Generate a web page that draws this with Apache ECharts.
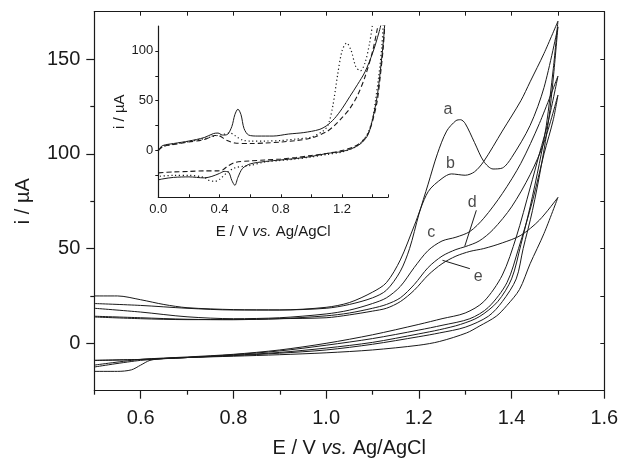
<!DOCTYPE html>
<html><head><meta charset="utf-8">
<script src="https://cdn.jsdelivr.net/npm/echarts@6/dist/echarts.min.js"></script>
<style>html,body{margin:0;padding:0;background:#fff}#c{width:622px;height:459px}</style>
</head><body><div id="c"></div>
<script>
// ---- tick / label values ----
const mainXLabels = [0.6, 0.8, 1.0, 1.2, 1.4, 1.6];
const mainXMinor = [0.5, 0.7, 0.9, 1.1, 1.3, 1.5];
const mainYLabels = [0, 50, 100, 150];
const mainYMinor = [25, 75, 125];
const insetXLabels = [0, 0.4, 0.8, 1.2];
const insetYLabels = [0, 50, 100];
const insetYTicks = [-25, 0, 25, 50, 75, 100];

// ---- main CVs (E / V, i / uA): forward (anodic) and reverse (cathodic) scans ----
const aFwd = [[0.5,25],[0.55,25],[0.6,23],[0.65,20.5],[0.7,18.8],[0.8,17.8],[0.9,17.6],[1.0,18.5],[1.05,20.5],[1.1,24],[1.13,28],[1.16,38],[1.18,50],[1.2,68],[1.22,84],[1.24,100],[1.26,112],[1.28,117.5],[1.29,118],[1.3,116],[1.32,106],[1.34,96],[1.36,92],[1.38,92.5],[1.4,98],[1.44,115],[1.47,135],[1.5,167]];
const aRev = [[1.5,167],[1.49,140],[1.48,118],[1.465,95],[1.445,70],[1.425,50],[1.41,34],[1.38,22],[1.35,14.3],[1.3,8.5],[1.245,5.5],[1.2,3.5],[1.1,-0.5],[1.0,-3.5],[0.9,-5.2],[0.8,-6.5],[0.7,-7.5],[0.65,-8],[0.62,-9],[0.6,-11.5],[0.58,-14],[0.55,-14.8],[0.5,-14.8]];
const bFwd = [[0.5,21],[0.6,20],[0.7,18.5],[0.8,17.6],[0.9,17.6],[1.0,19],[1.05,21.5],[1.1,27],[1.13,32],[1.16,44],[1.19,62],[1.22,80],[1.25,87],[1.27,89.4],[1.3,88.7],[1.32,90.5],[1.34,96],[1.38,112],[1.42,128],[1.44,138],[1.47,153],[1.5,170]];
const bRev = [[1.5,170],[1.49,145],[1.475,115],[1.46,95],[1.44,72],[1.42,52],[1.4,34],[1.37,22],[1.33,14],[1.29,10],[1.245,7.2],[1.2,5],[1.1,0.5],[1.0,-2.5],[0.9,-4.8],[0.8,-6.3],[0.7,-7.5],[0.6,-9],[0.5,-12.5]];
const cFwd = [[0.5,18.5],[0.6,16.5],[0.7,14],[0.8,13],[0.9,13.5],[1.0,15.5],[1.05,17.5],[1.1,21],[1.13,24],[1.16,30],[1.19,40],[1.22,49],[1.25,54],[1.28,56],[1.31,59],[1.34,66],[1.38,79],[1.42,95],[1.46,116],[1.5,141]];
const cRev = [[1.5,141],[1.48,118],[1.46,100],[1.44,82],[1.41,56],[1.38,36],[1.34,22],[1.3,16],[1.25,13],[1.2,10],[1.1,4.5],[1.0,0],[0.9,-3.5],[0.8,-5.8],[0.7,-7.2],[0.6,-8.5],[0.5,-11.5]];
const dFwd = [[0.5,14.3],[0.6,13.5],[0.7,12.7],[0.8,12.5],[0.9,13],[1.0,14.5],[1.05,16],[1.1,18.5],[1.13,20.5],[1.16,24],[1.19,31],[1.22,40],[1.25,46],[1.28,49.5],[1.3,51],[1.33,54],[1.36,60],[1.4,72],[1.44,89],[1.47,106],[1.5,131]];
const dRev = [[1.5,131],[1.49,118],[1.47,100],[1.445,75],[1.415,50],[1.39,32],[1.35,19],[1.31,13],[1.25,9.5],[1.2,7],[1.1,2.5],[1.0,-1],[0.9,-4],[0.8,-6],[0.7,-7.5],[0.6,-8.5],[0.5,-9]];
const eFwd = [[0.5,13.9],[0.6,13],[0.7,12.5],[0.8,12.5],[0.9,13],[1.0,13.5],[1.05,15],[1.1,17],[1.13,18.5],[1.16,22],[1.19,28],[1.22,36],[1.25,42],[1.28,46],[1.31,48.5],[1.34,50],[1.38,53],[1.42,57],[1.46,65],[1.5,77]];
const eRev = [[1.5,77],[1.47,58],[1.44,42],[1.417,28.4],[1.39,20],[1.367,14.3],[1.33,9],[1.303,5.5],[1.245,1],[1.2,-1],[1.1,-3.5],[1.0,-5],[0.9,-6],[0.8,-6.8],[0.7,-7.5],[0.6,-8.5],[0.5,-9]];

// curve labels and leader lines
const curveLabels = [[1.263,123.4,'a'],[1.268,94.9,'b'],[1.227,58.3,'c'],[1.315,74.5,'d'],[1.328,35,'e']];
const dLeader = [[1.324,70.2],[1.299,51.2]];
const eLeader = [[1.31,39.4],[1.251,43.8]];

// ---- inset CVs ----
const solidFwd = [[0,1],[0.03,5],[0.1,7],[0.2,9.5],[0.3,13],[0.36,17],[0.39,17.5],[0.42,15.5],[0.45,16],[0.48,24],[0.5,36],[0.52,41.5],[0.54,36],[0.56,22],[0.59,15.5],[0.65,14.5],[0.75,14.5],[0.85,16.5],[0.95,18],[1.05,21],[1.1,25],[1.15,32],[1.2,42],[1.25,54],[1.3,66],[1.35,79],[1.4,98],[1.44,118],[1.46,130]];
const solidRev = [[1.48,130],[1.47,110],[1.45,80],[1.43,55],[1.4,32],[1.37,16],[1.33,8],[1.28,3],[1.2,-1],[1.1,-3],[1.0,-6],[0.9,-8],[0.8,-9.5],[0.7,-11],[0.6,-13.5],[0.55,-18],[0.52,-27],[0.5,-35],[0.48,-30],[0.46,-22],[0.43,-21],[0.4,-23],[0.35,-26],[0.3,-27.5],[0.2,-26.5],[0.1,-27],[0.03,-28.5],[0,-29.5]];
const dashFwd = [[0,0],[0.03,4],[0.1,6],[0.2,8.5],[0.3,11],[0.37,15],[0.4,14.5],[0.45,10],[0.5,7.5],[0.6,7],[0.7,7.5],[0.8,8.5],[0.9,10],[1.0,12.5],[1.1,19],[1.15,25],[1.2,33],[1.25,42],[1.3,55],[1.35,74],[1.4,100],[1.43,122],[1.44,130]];
const dashRev = [[1.48,130],[1.47,105],[1.45,75],[1.43,50],[1.4,30],[1.37,17],[1.33,9],[1.28,4],[1.2,0],[1.1,-3],[1.0,-5],[0.9,-7],[0.8,-8.5],[0.7,-9.5],[0.6,-10.5],[0.5,-12],[0.45,-16],[0.42,-19.5],[0.38,-20.5],[0.3,-20.5],[0.2,-21],[0.1,-21.5],[0,-22.5]];
const dotFwd = [[0,0],[0.03,4],[0.1,6.5],[0.2,9],[0.3,12],[0.37,14.5],[0.42,16],[0.47,17.5],[0.5,15],[0.55,10.5],[0.6,9.5],[0.7,9.5],[0.8,10],[0.9,11.5],[1.0,13.5],[1.08,20],[1.11,26],[1.14,45],[1.17,75],[1.2,100],[1.23,108],[1.26,100],[1.29,84],[1.32,80],[1.35,88],[1.38,108],[1.4,128]];
const dotRev = [[1.47,130],[1.46,105],[1.44,75],[1.42,52],[1.4,32],[1.37,18],[1.33,9],[1.28,3],[1.2,-1.5],[1.1,-4],[1.0,-6.5],[0.9,-8.5],[0.8,-10],[0.7,-11.5],[0.6,-15],[0.55,-16],[0.5,-17.5],[0.45,-22],[0.4,-29],[0.37,-31],[0.33,-30],[0.3,-27],[0.2,-25],[0.1,-25],[0,-26]];

const FONT = 'Liberation Sans, Arial, Helvetica, sans-serif';
const INK = '#1a1a1a';

function cv(data, xi, yi, lineType, width, smooth) {
  return {
    type: 'line', data: data, xAxisIndex: xi, yAxisIndex: yi,
    showSymbol: false, symbol: 'none', smooth: smooth === undefined ? 0.3 : smooth,
    silent: true, clip: true,
    lineStyle: { color: INK, width: width || 1, type: lineType || 'solid' }
  };
}

const chart = echarts.init(document.getElementById('c'), null, { renderer: 'canvas' });
const axisLine = { show: true, onZero: false, lineStyle: { color: INK, width: 1.2 } };
const noLine = { show: false, onZero: false };

const series = [];
[aFwd, aRev, bFwd, bRev, cFwd, cRev, dFwd, dRev, eFwd, eRev].forEach(d => series.push(cv(d, 0, 0)));
series.push(cv(dLeader, 0, 0, 'solid', 1, false));
series.push(cv(eLeader, 0, 0, 'solid', 1, false));
series.push({
  type: 'scatter', xAxisIndex: 0, yAxisIndex: 0, silent: true,
  data: curveLabels.map(p => ({ value: [p[0], p[1]], name: p[2] })),
  symbolSize: 1, itemStyle: { color: 'rgba(0,0,0,0)' },
  label: { show: true, position: 'inside', formatter: p => p.name, color: INK, fontSize: 16, fontFamily: FONT }
});
series.push(cv(solidFwd, 3, 3, 'solid', 1));
series.push(cv(solidRev, 3, 3, 'solid', 1));
series.push(cv(dashFwd, 3, 3, [5, 3], 1.1));
series.push(cv(dashRev, 3, 3, [5, 3], 1.1));
series.push(cv(dotFwd, 3, 3, [1.2, 2.6], 1.2));
series.push(cv(dotRev, 3, 3, [1.2, 2.6], 1.2));

const nameRich = (size) => ({
  n: { fontSize: size, fontFamily: FONT, color: INK },
  i: { fontSize: size, fontFamily: FONT, color: INK, fontStyle: 'italic' }
});

chart.setOption({
  animation: false,
  backgroundColor: '#fff',
  grid: [
    { left: 94.3, right: 17.7, top: 11.7, bottom: 68.3, containLabel: false, outerBoundsMode: 'none' },
    { left: 158.3, right: 234, top: 26, bottom: 261.7, containLabel: false, outerBoundsMode: 'none' }
  ],
  xAxis: [
    {
      type: 'value', gridIndex: 0, position: 'bottom', min: 0.5, max: 1.6,
      axisLine: axisLine,
      axisTick: { show: true, inside: false, length: 8, customValues: mainXLabels, lineStyle: { color: INK, width: 1.2 } },
      axisLabel: { show: true, customValues: mainXLabels, formatter: v => v.toFixed(1), fontSize: 20, fontFamily: FONT, color: INK, margin: 18 },
      splitLine: { show: false },
      name: '{n|E / V }{i|vs.}{n| Ag/AgCl}', nameLocation: 'middle', nameGap: 48,
      nameTextStyle: { rich: nameRich(20) }
    },
    {
      type: 'value', gridIndex: 0, position: 'bottom', min: 0.5, max: 1.6,
      axisLine: noLine,
      axisTick: { show: true, inside: false, length: 4, customValues: mainXMinor, lineStyle: { color: INK, width: 1.2 } },
      axisLabel: { show: false }, splitLine: { show: false }
    },
    {
      type: 'value', gridIndex: 0, position: 'top', min: 0.5, max: 1.6, interval: 0.1,
      axisLine: axisLine,
      axisTick: { show: true, inside: true, length: 4, lineStyle: { color: INK, width: 1 } },
      axisLabel: { show: false }, splitLine: { show: false }
    },
    {
      type: 'value', gridIndex: 1, position: 'bottom', min: 0, max: 1.5, interval: 0.2,
      axisLine: axisLine,
      axisTick: { show: true, inside: true, length: 3, lineStyle: { color: INK, width: 1 } },
      axisLabel: { show: true, customValues: insetXLabels, formatter: v => v.toFixed(1), fontSize: 13, fontFamily: FONT, color: INK, margin: 6 },
      splitLine: { show: false },
      name: '{n|E / V }{i|vs.}{n| Ag/AgCl}', nameLocation: 'middle', nameGap: 27,
      nameTextStyle: { rich: nameRich(15) }
    }
  ],
  yAxis: [
    {
      type: 'value', gridIndex: 0, position: 'left', min: -25, max: 175,
      axisLine: axisLine,
      axisTick: { show: true, inside: false, length: 8, customValues: mainYLabels, lineStyle: { color: INK, width: 1.2 } },
      axisLabel: { show: true, customValues: mainYLabels, fontSize: 20, fontFamily: FONT, color: INK, margin: 14 },
      splitLine: { show: false },
      name: 'i / µA', nameLocation: 'middle', nameGap: 61,
      nameTextStyle: { fontSize: 20, fontFamily: FONT, color: INK }
    },
    {
      type: 'value', gridIndex: 0, position: 'left', min: -25, max: 175,
      axisLine: noLine,
      axisTick: { show: true, inside: false, length: 4, customValues: mainYMinor, lineStyle: { color: INK, width: 1.2 } },
      axisLabel: { show: false }, splitLine: { show: false }
    },
    {
      type: 'value', gridIndex: 0, position: 'right', min: -25, max: 175, interval: 25,
      axisLine: axisLine,
      axisTick: { show: true, inside: true, length: 4, lineStyle: { color: INK, width: 1 } },
      axisLabel: { show: false }, splitLine: { show: false }
    },
    {
      type: 'value', gridIndex: 1, position: 'left', min: -47, max: 125,
      axisLine: axisLine,
      axisTick: { show: true, inside: false, length: 3, customValues: insetYTicks, lineStyle: { color: INK, width: 1 } },
      axisLabel: { show: true, customValues: insetYLabels, fontSize: 13, fontFamily: FONT, color: INK, margin: 5 },
      splitLine: { show: false },
      name: 'i / µA', nameLocation: 'middle', nameGap: 29,
      nameTextStyle: { fontSize: 15, fontFamily: FONT, color: INK }
    }
  ],
  series: series
});
</script>
</body></html>
